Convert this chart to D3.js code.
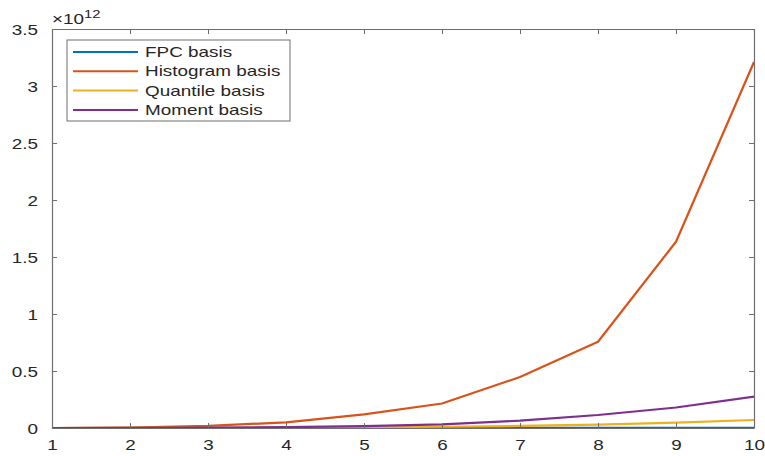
<!DOCTYPE html>
<html>
<head>
<meta charset="utf-8">
<script src="https://cdn.jsdelivr.net/npm/d3@7/dist/d3.min.js"></script>
<style>
  html, body { margin: 0; padding: 0; background: #fff; }
  svg { display: block; }
  text { font-family: "Liberation Sans", Arial, Helvetica, sans-serif; fill: #262626; }
</style>
</head>
<body>
<svg id="chart" width="765" height="456"></svg>
<script>
// Number of basis functions on the x axis
const basisCounts = [1, 2, 3, 4, 5, 6, 7, 8, 9, 10];

// Values in units of 1e12
const fpcValues       = [0, 0, 0, 0, 0.0002, 0.0003, 0.0005, 0.0008, 0.0012, 0.002];
const histogramValues = [0, 0.003, 0.018, 0.05, 0.12, 0.215, 0.447, 0.757, 1.634, 3.21];
const quantileValues  = [0, 0.0005, 0.001, 0.003, 0.006, 0.011, 0.018, 0.03, 0.048, 0.07];
const momentValues    = [0, 0.001, 0.003, 0.008, 0.016, 0.032, 0.064, 0.114, 0.18, 0.275];

const seriesNames  = ["FPC basis", "Histogram basis", "Quantile basis", "Moment basis"];
const seriesColors = ["#0072BD", "#D95319", "#EDB120", "#7E2F8E"];

const xTicks = [1, 2, 3, 4, 5, 6, 7, 8, 9, 10];
const yTicks = [0, 0.5, 1, 1.5, 2, 2.5, 3, 3.5];

const series = [fpcValues, histogramValues, quantileValues, momentValues];

const plotLeft = 52, plotRight = 754, plotTop = 29, plotBottom = 428;
const sx = 1.35; // horizontal stretch of all text

const svg = d3.select("#chart");

const x = d3.scaleLinear().domain([1, 10]).range([plotLeft, plotRight]);
const y = d3.scaleLinear().domain([0, 3.5]).range([plotBottom, plotTop]);

const axisColor = "#6e6e6e";

// Lines
const line = d3.line()
  .x((d, i) => x(basisCounts[i]))
  .y(d => y(d));

series.forEach((vals, k) => {
  svg.append("path")
    .datum(vals)
    .attr("d", line)
    .attr("fill", "none")
    .attr("stroke", seriesColors[k])
    .attr("stroke-width", 2.2)
    .attr("stroke-linejoin", "round");
});

function styleAxis(g) {
  g.select(".domain").attr("stroke", axisColor).attr("stroke-width", 1.2);
  g.selectAll(".tick line").attr("stroke", axisColor).attr("stroke-width", 1);
}

// Bottom axis
const gx = svg.append("g")
  .attr("transform", `translate(0,${plotBottom})`)
  .call(d3.axisBottom(x).tickValues(xTicks).tickSize(-5).tickSizeOuter(0).tickFormat(d3.format("d")));
styleAxis(gx);
gx.selectAll(".tick text")
  .attr("y", 22).attr("dy", 0)
  .attr("font-size", 14)
  .attr("transform", `scale(${sx},1)`)
  .style("fill", "#262626");

// Top axis (ticks only)
const gxt = svg.append("g")
  .attr("transform", `translate(0,${plotTop})`)
  .call(d3.axisTop(x).tickValues(xTicks).tickSize(-5).tickSizeOuter(0).tickFormat(""));
styleAxis(gxt);

// Left axis
const gy = svg.append("g")
  .attr("transform", `translate(${plotLeft},0)`)
  .call(d3.axisLeft(y).tickValues(yTicks).tickSize(-5).tickSizeOuter(0).tickFormat(d3.format("")));
styleAxis(gy);
gy.selectAll(".tick text")
  .attr("x", -14 / sx).attr("dy", "0.36em")
  .attr("font-size", 14)
  .attr("transform", `scale(${sx},1)`)
  .style("fill", "#262626");

// Right axis (ticks only)
const gyr = svg.append("g")
  .attr("transform", `translate(${plotRight},0)`)
  .call(d3.axisRight(y).tickValues(yTicks).tickSize(-5).tickSizeOuter(0).tickFormat(""));
styleAxis(gyr);

// Exponent label
const expo = svg.append("text")
  .attr("transform", `translate(52,24) scale(${sx},1)`)
  .attr("font-size", 14);
expo.append("tspan").text("\u00d710");
expo.append("tspan").attr("font-size", 11).attr("dy", -6).text("12");

// Legend
const lg = svg.append("g");
lg.append("rect")
  .attr("x", 67).attr("y", 40).attr("width", 223).attr("height", 81)
  .attr("fill", "#fff").attr("stroke", axisColor).attr("stroke-width", 1);

seriesNames.forEach((name, k) => {
  const cy = 52 + k * 19.3;
  lg.append("line")
    .attr("x1", 73).attr("x2", 138).attr("y1", cy).attr("y2", cy)
    .attr("stroke", seriesColors[k]).attr("stroke-width", 2);
  lg.append("text")
    .attr("transform", `translate(145,${cy + 5}) scale(${sx},1)`)
    .attr("font-size", 14)
    .text(name);
});
</script>
</body>
</html>
